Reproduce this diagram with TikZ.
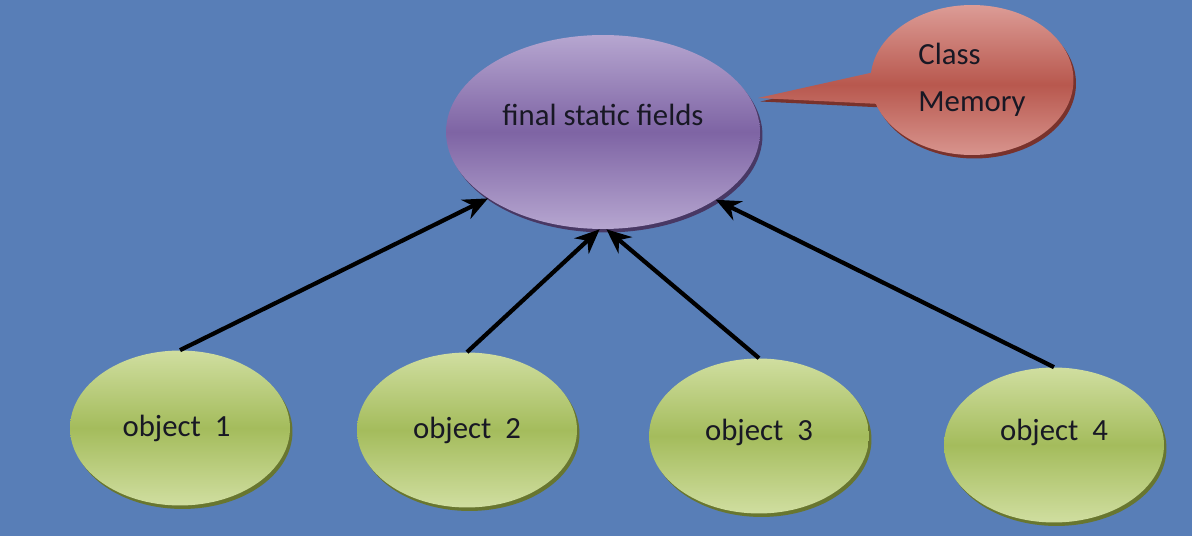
\documentclass[tikz,border=0pt]{standalone}
\usepackage{fontspec}
\setmainfont{Carlito}
\usetikzlibrary{shapes.geometric,shapes.callouts,arrows.meta,shadows}
\definecolor{bg}{RGB}{88,126,183}
\definecolor{purT}{RGB}{182,166,208}
\definecolor{purM}{RGB}{126,100,164}
\definecolor{purD}{RGB}{72,56,100}
\definecolor{grnT}{RGB}{208,222,160}
\definecolor{grnM}{RGB}{164,188,92}
\definecolor{grnD}{RGB}{104,118,48}
\definecolor{redT}{RGB}{220,156,150}
\definecolor{redM}{RGB}{184,88,78}
\definecolor{redD}{RGB}{120,50,44}
\definecolor{txt}{RGB}{24,24,36}
\tikzset{
  bubble/.style={ellipse, inner sep=0pt, text=txt, font=\fontsize{17.5}{21}\selectfont},
  mainell/.style={bubble, minimum width=6.28cm, minimum height=3.88cm,
     top color=purT, bottom color=purT, middle color=purM,
     general shadow={fill=purD, shadow xshift=0.05cm, shadow yshift=-0.07cm}},
  objell/.style={bubble, minimum width=4.4cm, minimum height=3.1cm,
     top color=grnT, bottom color=grnT, middle color=grnM,
     general shadow={fill=grnD, shadow xshift=0.05cm, shadow yshift=-0.07cm}},
  memell/.style={bubble, ellipse callout, minimum width=4.06cm, minimum height=3.0cm,
     callout pointer arc=24,
     top color=redT, bottom color=redT, middle color=redM,
     general shadow={fill=redD, shadow xshift=0.05cm, shadow yshift=-0.07cm}},
  link/.style={line width=2.4pt, black, -{Stealth[length=14pt,width=12pt]}}
}
\begin{document}
\begin{tikzpicture}[x=0.02cm,y=-0.02cm]
\fill[bg] (0,0) rectangle (1192,536);
\useasboundingbox (0,0) rectangle (1192,536);
\coordinate (tip) at (758,98);
\node[memell, callout absolute pointer={(tip)}, align=left] (mem) at (972,80)
  {Class\\[0.2cm]Memory};
\node[mainell] (main) at (603,132) {\raisebox{0.68cm}{final static fields}};
\node[objell] (o1) at (180,428) {\hspace*{-0.14cm}object~~1};
\node[objell] (o2) at (467,430) {object~~2};
\node[objell] (o3) at (759,436) {\raisebox{0.24cm}{object~~3}};
\node[objell] (o4) at (1054,445) {\raisebox{0.6cm}{object~~4}};
\draw[link] (o1.north) -- (main.210.7);
\draw[link] (o2.north) -- (main.268);
\draw[link] (o3.north) -- (main.272);
\draw[link] (o4.north) -- (main.329);
\end{tikzpicture}
\end{document}
